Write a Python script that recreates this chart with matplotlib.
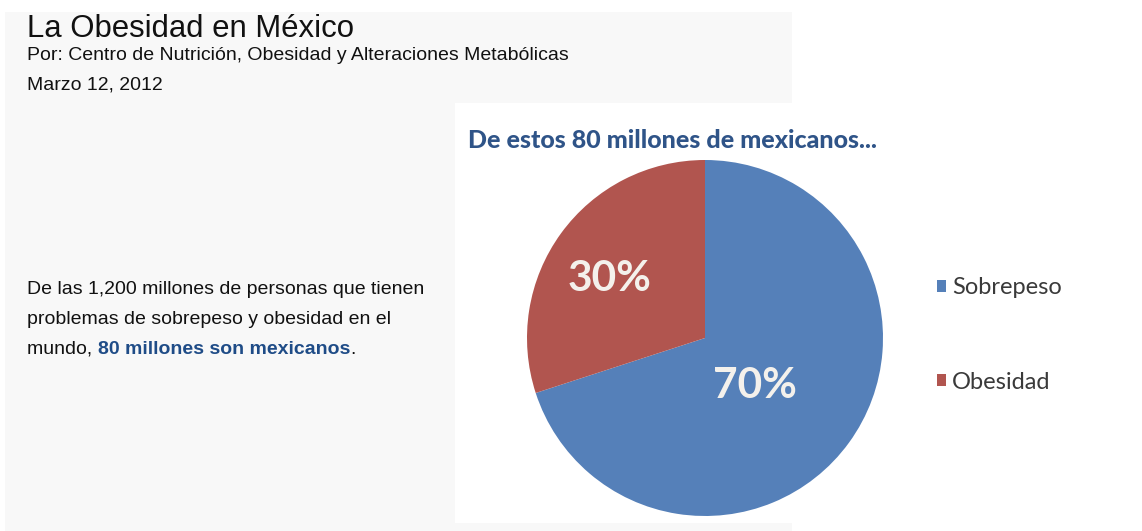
import matplotlib
matplotlib.use("Agg")
import matplotlib.pyplot as plt
from matplotlib.patches import Rectangle, Patch
import numpy as np

# Data
categories = ["Sobrepeso", "Obesidad"]
shares = [70, 30]
colors = ["#5580B9", "#B1554F"]

page_title = "La Obesidad en México"
byline = "Por: Centro de Nutrición, Obesidad y Alteraciones Metabólicas"
date_line = "Marzo 12, 2012"
chart_title = "De estos 80 millones de mexicanos..."
body_lines = ["De las 1,200 millones de personas que tienen",
              "problemas de sobrepeso y obesidad en el"]
body_last_plain = "mundo, "
body_last_bold = "80 millones son mexicanos"

W, H = 1142, 531
fig = plt.figure(figsize=(W / 100, H / 100), dpi=100)
fig.patch.set_facecolor("white")

# Full-figure canvas in pixel coordinates (y downward)
bg = fig.add_axes([0, 0, 1, 1])
bg.set_xlim(0, W)
bg.set_ylim(H, 0)
bg.axis("off")

# Light grey page panel and white chart panel
bg.add_patch(Rectangle((5, 12), 787, H - 12, facecolor="#f8f8f8", edgecolor="none"))
bg.add_patch(Rectangle((455, 103), W - 455, 420, facecolor="white", edgecolor="none"))

sans = ["Liberation Sans", "DejaVu Sans"]
ink = "#111111"
bg.text(27, 29, page_title, fontsize=22.4, family=sans, color=ink, va="center", ha="left")
bg.text(27, 55, byline, fontsize=14, family=sans, color=ink, va="center", ha="left")
bg.text(27, 85, date_line, fontsize=14, family=sans, color=ink, va="center", ha="left")

body_size = 14
for i, line in enumerate(body_lines):
    bg.text(27, 289 + 30 * i, line, fontsize=body_size, family=sans, color=ink,
            va="center", ha="left")

# Last line: plain text, bold blue highlight, closing period
r = fig.canvas.get_renderer()
t1 = bg.text(27, 349, body_last_plain, fontsize=body_size, family=sans, color=ink,
             va="center", ha="left")
x_next = t1.get_window_extent(renderer=r).x1
t2 = bg.text(x_next, 349, body_last_bold, fontsize=body_size, family=sans,
             color="#1F4C87", fontweight="bold", va="center", ha="left")
x_next = t2.get_window_extent(renderer=r).x1
bg.text(x_next, 349, ".", fontsize=body_size, family=sans, color=ink,
        va="center", ha="left")

# Chart title
bg.text(673, 140, chart_title, fontsize=18, family=["Lato", "DejaVu Sans"],
        fontweight="black", color="#2F5488", va="center", ha="center")

# Pie
cx, cy, rad = 705, 338, 178
pie_ax = fig.add_axes([(cx - rad) / W, (H - cy - rad) / H, 2 * rad / W, 2 * rad / H])
wedges, _ = pie_ax.pie(shares, colors=colors, startangle=90, counterclock=False,
                       radius=1.0, wedgeprops=dict(linewidth=0))
pie_ax.set_xlim(-1, 1)
pie_ax.set_ylim(-1, 1)
pie_ax.set_aspect("equal")
pie_ax.axis("off")

label_r = [0.39, 0.63]
label_shift = [-8, 4]
for w, val, rr, sh in zip(wedges, shares, label_r, label_shift):
    ang = np.deg2rad((w.theta1 + w.theta2) / 2 + sh)
    pie_ax.text(rr * np.cos(ang), rr * np.sin(ang), f"{val}%", ha="center", va="center",
                fontsize=30.5, fontweight="bold", family=["Lato", "DejaVu Sans"],
                color="#F4F1EC")

# Legend
handles = [Patch(facecolor=c, edgecolor="none") for c in colors]
fig.legend(handles, categories, loc="center left",
           bbox_to_anchor=(937 / W, (H - 335) / H), frameon=False,
           prop=dict(family=["Lato", "DejaVu Sans"], size=17),
           labelcolor="#3A3A3A", handlelength=0.38, handleheight=0.38,
           handletextpad=0.25, labelspacing=3.1, borderpad=0, borderaxespad=0)

fig.savefig("out.png", dpi=100, facecolor="white")
